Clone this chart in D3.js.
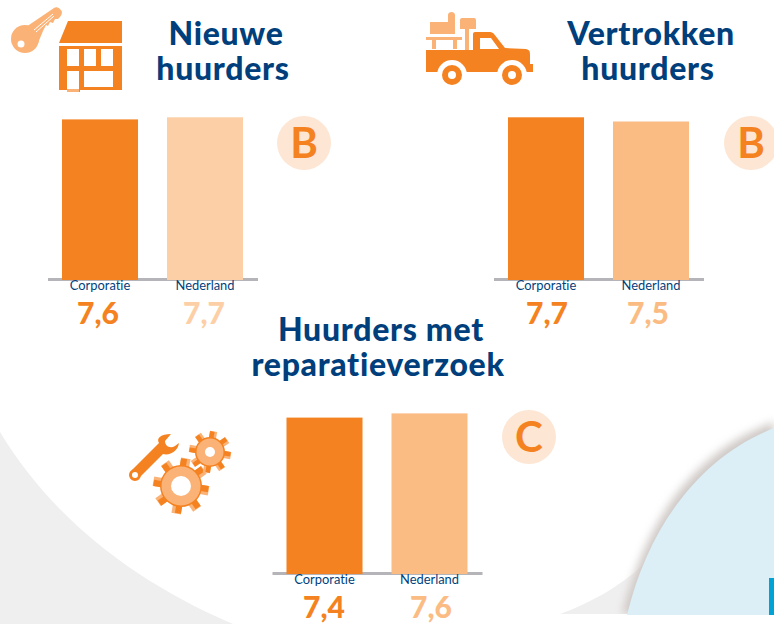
<!DOCTYPE html>
<html>
<head>
<meta charset="utf-8">
<script src="https://cdn.jsdelivr.net/npm/d3@7"></script>
<style>
html,body{margin:0;padding:0;background:#fff}
svg{display:block}
text{font-family:Lato,"Open Sans",sans-serif;font-variant-ligatures:none}
</style>
</head>
<body>
<div id="chart"></div>
<script>
var categories = ['Corporatie','Nederland']
var nieuweValues = [7.6,7.7]
var vertrokkenValues = [7.7,7.5]
var reparatieValues = [7.4,7.6]
var badges = ['B','B','C']

var orange = '#F58220'
var navy = '#003F7C'
var grey = '#B4B4B9'
var lightIcon = '#FBB276'

var svg = d3.select('#chart').append('svg').attr('width',774).attr('height',624)

// background shapes
var defs = svg.append('defs')
var blur = defs.append('filter').attr('id','soft').attr('x','-30%').attr('y','-30%').attr('width','160%').attr('height','160%')
blur.append('feGaussianBlur').attr('stdDeviation',4.5)
var clipBg = defs.append('clipPath').attr('id','pageClip')
clipBg.append('rect').attr('width',774).attr('height',614)

svg.append('path').attr('fill','#F0EFEF')
	.attr('d','M0 432 C50 515 130 580 233 624 L0 624 Z')
svg.append('path').attr('fill','#F0EFEF')
	.attr('d','M560 614 C590 603 620 587 645 563 L640 614 Z')
svg.append('path').attr('fill','#CFC9C6').attr('filter','url(#soft)')
	.attr('clip-path','url(#pageClip)')
	.attr('d','M774 422 C697 450 648 515 622 614 L640 614 C665 525 715 465 774 438 Z')
svg.append('path').attr('fill','#DCEFF6')
	.attr('d','M774 428 C705 455 650 520 627 615 L774 615 Z')
svg.append('rect').attr('x',769).attr('y',578).attr('width',5).attr('height',37).attr('fill','#00A3D3')

// one small bar chart
function drawBars(x0,baseY,values,lightColor,badge,bx,by,valShift){
	var x = d3.scaleBand().domain(categories).range([x0+.5,x0+210.5]).paddingInner(.276).paddingOuter(.138)
	var y = d3.scaleLinear().domain([0,10]).range([baseY,baseY-210])
	var g = svg.append('g')

	var axis = g.append('g').attr('transform',`translate(0,${baseY})`)
		.call(d3.axisBottom(x).tickSize(0).tickPadding(2))
	axis.select('.domain').attr('stroke',grey).attr('stroke-width',3)
	axis.selectAll('text').attr('fill',navy).style('font-size','12.9px')
		.style('font-family','Lato,sans-serif').style('font-variant-ligatures','none')

	g.selectAll('rect').data(values).enter().append('rect')
		.attr('x',(d,i)=>x(categories[i]))
		.attr('y',d=>y(d))
		.attr('width',x.bandwidth())
		.attr('height',d=>baseY-y(d)+1)
		.attr('fill',(d,i)=>i==0?orange:lightColor)

	g.selectAll('text.val').data(values).enter().append('text').attr('class','val')
		.attr('x',(d,i)=>x(categories[i])+x.bandwidth()/2+valShift[i])
		.attr('y',baseY+45)
		.attr('text-anchor','middle')
		.attr('fill',(d,i)=>i==0?orange:lightColor)
		.style('font-size','30px').style('font-weight','900')
		.text(d=>String(d).replace('.',','))

	g.append('circle').attr('cx',bx).attr('cy',by).attr('r',27).attr('fill','#FDE6D3')
	g.append('text').attr('x',bx).attr('y',by+15).attr('text-anchor','middle')
		.attr('fill',orange).style('font-size','42px').style('font-weight','700').text(badge)
}

drawBars(47,279,nieuweValues,'#FDCFA6',badges[0],304,143,[-2,-1])
drawBars(493,279,vertrokkenValues,'#FBBC84',badges[1],751,143,[1,-3])
drawBars(271.5,573,reparatieValues,'#FBBC84',badges[2],529,437,[-.5,1.5])

// titles, two lines in one text element
function title(l1,x1,l2,x2,y){
	var t = svg.append('text').attr('text-anchor','middle').attr('fill',navy)
		.style('font-size','32px').style('font-weight','900').style('letter-spacing','.7px')
	t.append('tspan').attr('x',x1).attr('y',y).text(l1)
	t.append('tspan').attr('x',x2).attr('y',y+35).text(l2)
}
title('Nieuwe',226,'huurders',223,45)
title('Vertrokken',651,'huurders',648,45)
title('Huurders met',381,'reparatieverzoek',378,341)

// house + key icon
var house = svg.append('g')
house.append('circle').attr('cx',25).attr('cy',39).attr('r',14).attr('fill',lightIcon)
house.append('path').attr('fill',lightIcon)
	.attr('d','M26 27 L54 8 C57 6 61 9 62 12 C62 15 60 17 58 19 L55 19 L53 23 L50 22 L48 26 L46 25 L43 31 L38 43 Z')
house.append('circle').attr('cx',21).attr('cy',44).attr('r',3.5).attr('fill','#fff')
house.append('path').attr('stroke','#fff').attr('stroke-width',1).attr('d','M34 30 L53 14 M36 32 L54 16')
house.append('path').attr('fill',orange).attr('d','M68 21 L122 21 L122 43 L59 43 Z')
house.append('path').attr('fill',orange).attr('fill-rule','evenodd')
	.attr('d','M59 46 L122 46 L122 90 L80 90 L80 92 L67 92 L67 90 L59 90 Z M67 49 L67 66 L79 66 L79 49 Z M84 49 L84 66 L96 66 L96 49 Z M101 49 L101 66 L113 66 L113 49 Z M67 71 L67 89 L79 89 L79 71 Z M84 71 L84 87 L113 87 L113 71 Z')
house.append('rect').attr('x',67).attr('y',89).attr('width',12).attr('height',3).attr('fill',lightIcon)

// truck icon
var truck = svg.append('g')
truck.append('path').attr('fill',lightIcon)
	.attr('d','M430 22 L448 22 L448 15 C448 11 455 11 455 15 L455 34 L430 34 Z M426 37 L462 37 L462 40 L457 40 L457 49 L453 49 L453 40 L436 40 L436 49 L432 49 L432 40 L426 40 Z M460 20 C460 18 462 18 463 18 L474 18 C476 18 476 20 476 21 L476 29 L469 29 L469 50 L465 50 L465 29 L460 29 Z')
truck.append('path').attr('fill',orange).attr('fill-rule','evenodd')
	.attr('d','M426 50 L473 50 L473 34 C473 32 475 32 476 32 L490 32 C492 32 493 33 494 34 L505 48 L526 49 C530 50 530 52 530 55 L530 64 L533 64 L533 72 L426 72 Z M480 38 L480 49 L499 49 L491 38 Z')
truck.selectAll('circle.arch').data([452,512]).enter().append('circle').attr('class','arch')
	.attr('cx',d=>d).attr('cy',75).attr('r',15).attr('fill','#fff')
truck.selectAll('circle.w').data([452,512]).enter().append('circle').attr('class','w')
	.attr('cx',d=>d).attr('cy',75).attr('r',7).attr('fill','#fff').attr('stroke',orange).attr('stroke-width',6)

// wrench + gears icon
var tool = svg.append('g')
function gear(cx,cy,rOuter,rRing,rHole,n){
	var g = tool.append('g').attr('transform',`translate(${cx},${cy})`)
	d3.range(n).forEach(i=>{
		var a = i*360/n+10
		g.append('rect').attr('x',-rOuter*.17).attr('y',-rOuter).attr('width',rOuter*.34).attr('height',rOuter*.4)
			.attr('fill',lightIcon).attr('transform',`rotate(${a})`)
		g.append('rect').attr('x',-rOuter*.17).attr('y',-rOuter*.98).attr('width',rOuter*.22).attr('height',rOuter*.4)
			.attr('fill',orange).attr('transform',`rotate(${a})`)
	})
	g.append('circle').attr('r',rRing).attr('fill',orange)
	g.append('circle').attr('r',rRing-1.5).attr('fill',lightIcon)
	g.append('circle').attr('r',rHole).attr('fill','#fff')
}
gear(181,486,28,21,10,8)
gear(210,452,21,15,5,8)
tool.append('path').attr('fill',orange)
	.attr('d','M132 470 L159 443 C156 438 161 434 171 434 L165 441 C165 446 170 449 175 446 L179 443 C178 451 170 456 163 454 L139 478 Z')
tool.append('circle').attr('cx',135).attr('cy',475).attr('r',4.5).attr('fill','#fff').attr('stroke',orange).attr('stroke-width',3)
</script>
</body>
</html>
